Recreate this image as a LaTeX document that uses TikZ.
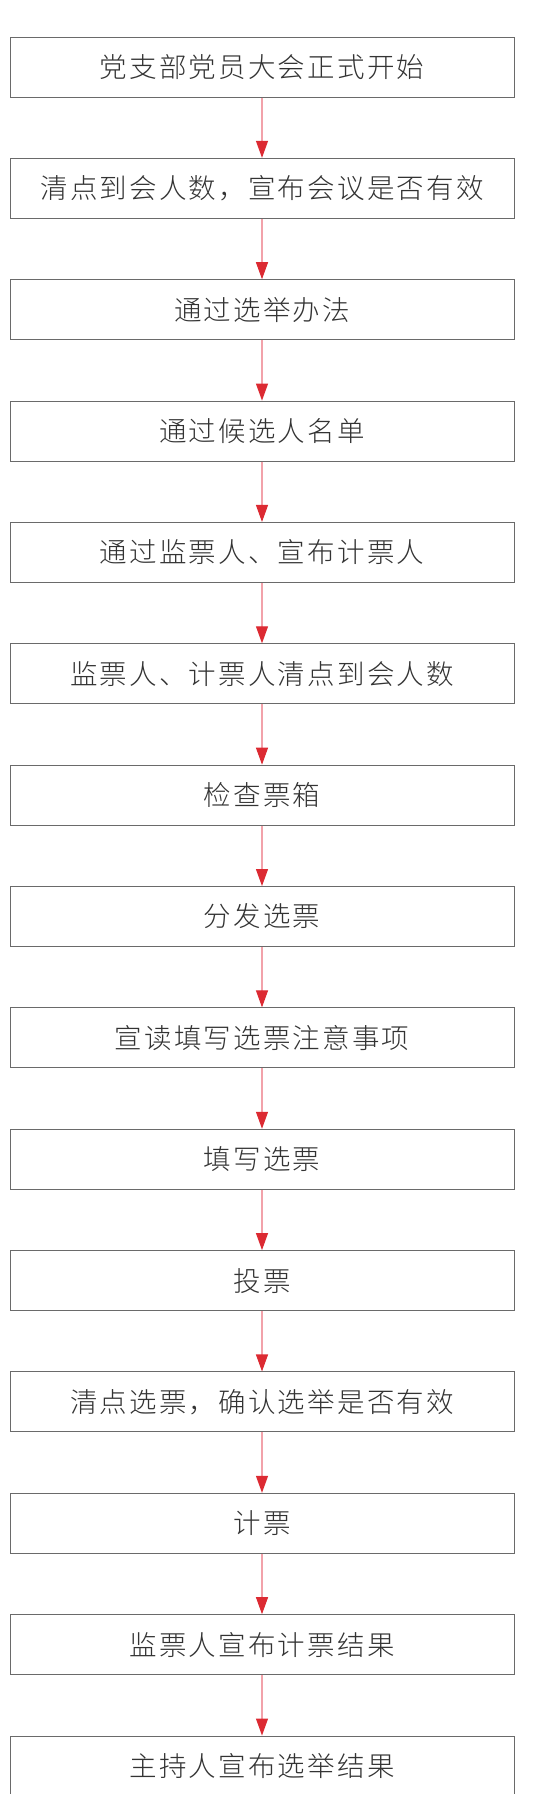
\documentclass[tikz,border=0pt]{standalone}
\usepackage{fontspec}
\newfontfamily\cjk[LetterSpace=8]{Noto Sans CJK SC Light}
\usepackage{tikz}
\usetikzlibrary{positioning,arrows.meta}
\definecolor{boxline}{HTML}{6A6A6A}
\definecolor{arrline}{HTML}{F2A2AA}
\definecolor{arrhead}{HTML}{DC2A32}
\tikzset{
 stepbox/.style={draw=boxline,line width=1pt,minimum width=504pt,minimum height=60pt,inner sep=0pt,
  font=\cjk\fontsize{27.5}{27.5}\selectfont,text=black!80},
 flow/.style={draw=arrline,line width=1.1pt,-{Triangle[color=arrhead,length=17pt,width=12pt]}}
}

\begin{document}
\begin{tikzpicture}[x=1pt,y=1pt,node distance=60.36pt]
\useasboundingbox (0,0) rectangle (534,-1794);
\node[stepbox] (s1) at (262,-67) {党支部党员大会正式开始};
\node[stepbox,below=of s1] (s2) {清点到会人数，宣布会议是否有效};
\node[stepbox,below=of s2] (s3) {通过选举办法};
\node[stepbox,below=of s3] (s4) {通过候选人名单};
\node[stepbox,below=of s4] (s5) {通过监票人、宣布计票人};
\node[stepbox,below=of s5] (s6) {监票人、计票人清点到会人数};
\node[stepbox,below=of s6] (s7) {检查票箱};
\node[stepbox,below=of s7] (s8) {分发选票};
\node[stepbox,below=of s8] (s9) {宣读填写选票注意事项};
\node[stepbox,below=of s9] (s10) {填写选票};
\node[stepbox,below=of s10] (s11) {投票};
\node[stepbox,below=of s11] (s12) {清点选票，确认选举是否有效};
\node[stepbox,below=of s12] (s13) {计票};
\node[stepbox,below=of s13] (s14) {监票人宣布计票结果};
\node[stepbox,below=of s14] (s15) {主持人宣布选举结果};
\foreach \i [evaluate=\i as \j using int(\i+1)] in {1,...,14} {
 \draw[flow] (s\i) -- (s\j);
 }
\end{tikzpicture}
\end{document}
